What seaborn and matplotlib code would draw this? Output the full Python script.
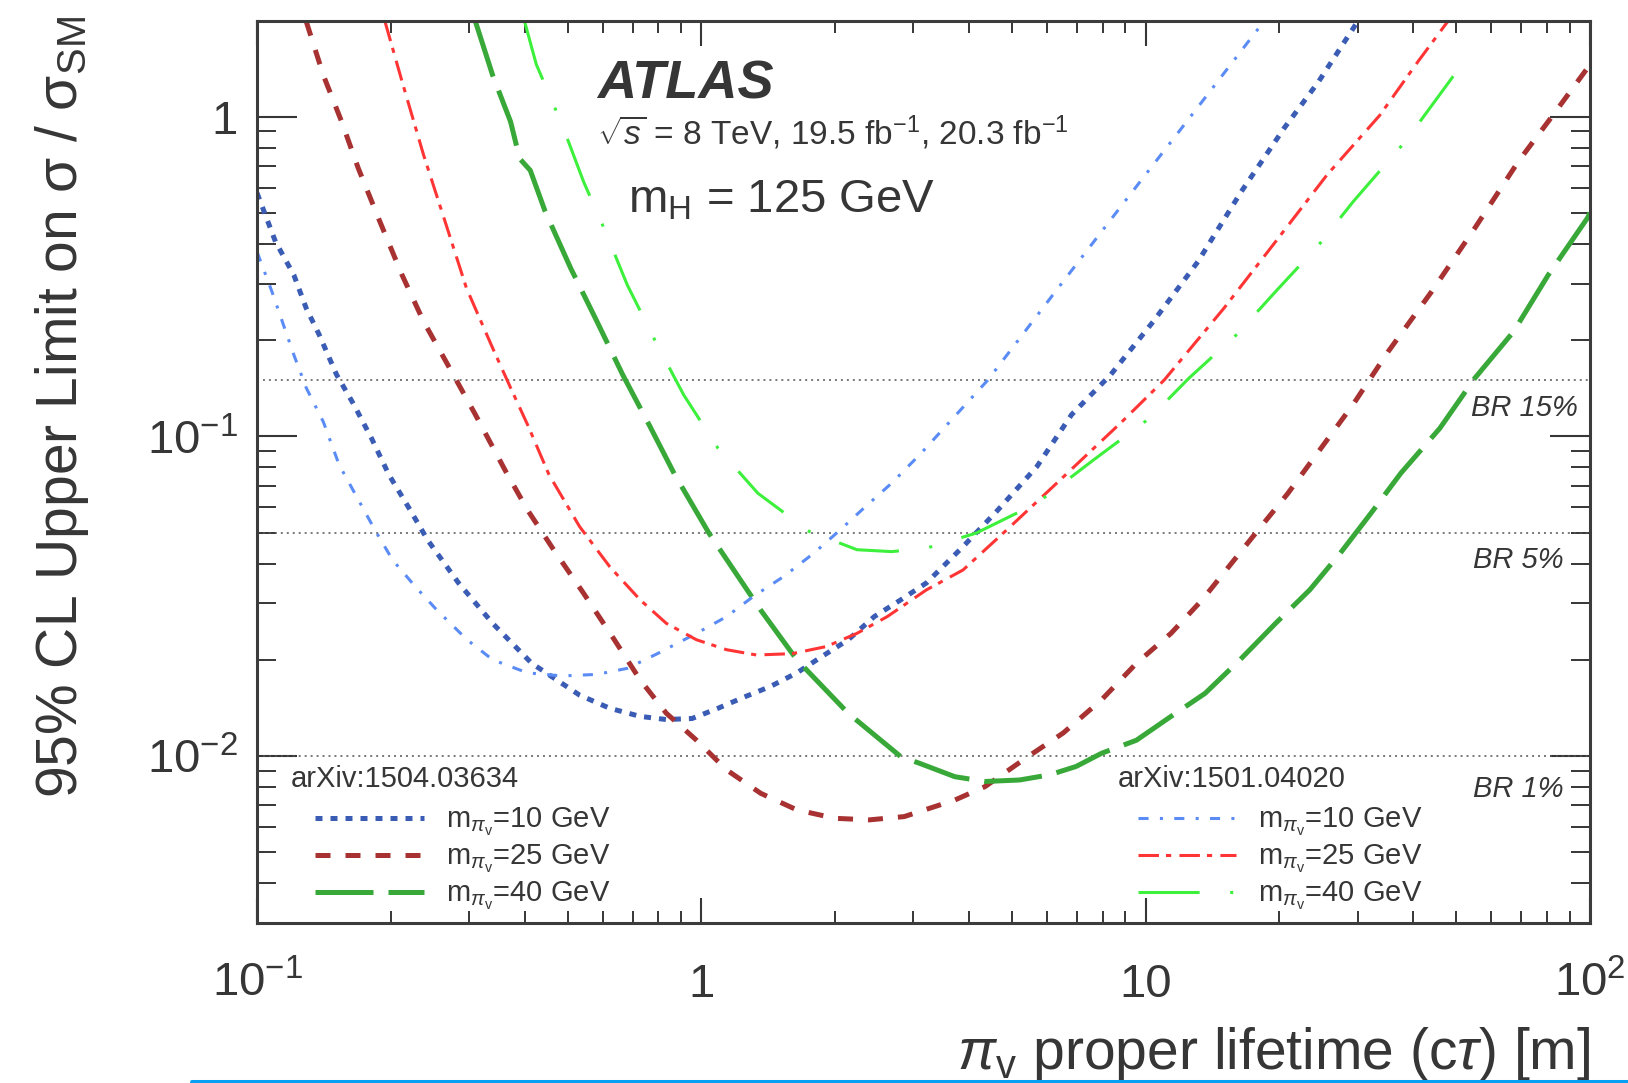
import matplotlib
matplotlib.use("Agg")
import matplotlib.pyplot as plt
import matplotlib.transforms as mtransforms
from matplotlib.lines import Line2D
from matplotlib.ticker import FixedLocator, FixedFormatter, LogLocator, NullFormatter
import seaborn as sns

# expected limits
# arXiv:1504.03634 (muon spectrometer vertices)
ms10_x = [0.1, 0.110, 0.121, 0.129, 0.138, 0.151, 0.165, 0.181, 0.198, 0.221, 0.242, 0.284, 0.339, 0.415,
          0.532, 0.622, 0.728, 0.834, 0.953, 1.09, 1.25, 1.43, 1.64, 1.87, 2.14, 2.45, 2.81, 3.21, 3.88,
          4.65, 5.69, 6.81, 8.34, 10.4, 13.1, 16.4, 20.5, 24.5, 30.0]
ms10_y = [0.578, 0.407, 0.320, 0.252, 0.208, 0.156, 0.126, 0.0986, 0.0759, 0.0589, 0.0474, 0.0348, 0.0260,
          0.0195, 0.0155, 0.0141, 0.0133, 0.0130, 0.0131, 0.0141, 0.0153, 0.0165, 0.0182, 0.0205, 0.0231,
          0.0273, 0.0308, 0.0348, 0.0452, 0.0589, 0.0805, 0.117, 0.156, 0.229, 0.352, 0.583, 0.923, 1.29, 1.99]

ms25_x = [0.129, 0.141, 0.155, 0.169, 0.189, 0.212, 0.237, 0.271, 0.310, 0.363, 0.406, 0.465, 0.543, 0.637,
          0.728, 0.834, 0.975, 1.14, 1.36, 1.64, 2.00, 2.39, 2.86, 3.72, 4.35, 5.43, 6.52, 7.96, 9.53, 11.4,
          13.4, 15.6, 17.9, 20.9, 29.3, 35.1, 44.0, 55.0, 68.9, 82.4, 98.6, 100]
ms25_y = [1.99, 1.35, 0.966, 0.690, 0.470, 0.320, 0.229, 0.164, 0.117, 0.0776, 0.0589, 0.0442, 0.0323,
          0.0231, 0.0173, 0.0136, 0.0112, 0.00904, 0.00764, 0.00678, 0.00638, 0.00631, 0.00646, 0.00728,
          0.00802, 0.00995, 0.0118, 0.0150, 0.0195, 0.0242, 0.0308, 0.0401, 0.0509, 0.0664, 0.126, 0.184,
          0.284, 0.448, 0.724, 1.01, 1.42, 1.45]

ms40_x = [0.310, 0.339, 0.372, 0.390, 0.412, 0.445, 0.508, 0.582, 0.665, 0.762, 0.871, 1.04, 1.36, 1.64,
          2.14, 2.81, 3.10, 3.72, 4.35, 5.20, 6.08, 6.97, 7.96, 9.53, 11.4, 13.6, 16.3, 19.6, 23.4, 27.4,
          32.1, 37.5, 45.9, 55.0, 67.3, 80.5, 98.6, 100]
ms40_y = [1.99, 1.35, 0.966, 0.740, 0.680, 0.506, 0.336, 0.229, 0.156, 0.109, 0.0759, 0.0498, 0.0286,
          0.0200, 0.0136, 0.00995, 0.00948, 0.00861, 0.00832, 0.00841, 0.00873, 0.00927, 0.0102, 0.0112,
          0.0133, 0.0157, 0.0200, 0.0260, 0.0331, 0.0431, 0.0574, 0.0767, 0.106, 0.152, 0.213, 0.320,
          0.482, 0.501]

# arXiv:1501.04020 (calorimeter)
cr10_x = [0.1, 0.108, 0.121, 0.129, 0.141, 0.153, 0.185, 0.202, 0.227, 0.254, 0.297, 0.339, 0.406, 0.486,
          0.582, 0.681, 0.796, 0.975, 1.14, 1.31, 1.53, 1.79, 2.05, 2.34, 2.68, 3.11, 4.41, 6.31, 8.91,
          12.6, 18.5]
cr10_y = [0.378, 0.284, 0.180, 0.142, 0.111, 0.0815, 0.0504, 0.0410, 0.0339, 0.0286, 0.0231, 0.0200,
          0.0182, 0.0178, 0.0180, 0.0188, 0.0209, 0.0242, 0.0273, 0.0316, 0.0364, 0.0431, 0.0509, 0.0603,
          0.0714, 0.0881, 0.150, 0.288, 0.537, 1.0, 2.0]

cr25_x = [0.194, 0.212, 0.237, 0.265, 0.296, 0.339, 0.372, 0.406, 0.454, 0.532, 0.622, 0.728, 0.834, 0.975,
          1.14, 1.33, 1.60, 1.91, 2.24, 2.62, 3.21, 3.88, 4.86, 6.08, 8.83, 11.0, 15.0, 19.6, 25.6, 33.6,
          41.0, 48.1]
cr25_y = [1.99, 1.29, 0.760, 0.470, 0.291, 0.189, 0.142, 0.109, 0.0759, 0.0522, 0.0391, 0.0308, 0.0260,
          0.0231, 0.0215, 0.0207, 0.0209, 0.0220, 0.0242, 0.0273, 0.0331, 0.0382, 0.0509, 0.0681, 0.111,
          0.150, 0.252, 0.407, 0.659, 1.01, 1.49, 2.01]

cr40_x = [0.400, 0.425, 0.486, 0.543, 0.608, 0.681, 0.796, 0.912, 1.09, 1.34, 1.75, 2.24, 2.68, 3.21, 4.15,
          5.69, 7.62, 10.2, 12.5, 16.0, 19.6, 24.5, 29.3, 38.4, 49.2]
cr40_y = [1.99, 1.46, 0.944, 0.627, 0.438, 0.298, 0.193, 0.135, 0.0918, 0.0664, 0.0504, 0.0442, 0.0436,
          0.0447, 0.0498, 0.0618, 0.0843, 0.114, 0.152, 0.208, 0.284, 0.397, 0.543, 0.838, 1.34]

mass_labels = [r"m$_{\pi_{\mathrm{v}}}$=10 GeV", r"m$_{\pi_{\mathrm{v}}}$=25 GeV", r"m$_{\pi_{\mathrm{v}}}$=40 GeV"]
br_levels = [0.15, 0.05, 0.01]
br_labels = ["BR 15%", "BR 5%", "BR 1%"]
xtick_vals = [0.1, 1, 10, 100]
xtick_labels = [r"$10^{-1}$", "1", "10", r"$10^{2}$"]
ytick_vals = [0.01, 0.1, 1]
ytick_labels = [r"$10^{-2}$", r"$10^{-1}$", "1"]

sns.set_theme(style="ticks")
plt.rcParams["font.family"] = ["Liberation Sans", "DejaVu Sans"]
plt.rcParams["mathtext.fontset"] = "custom"
plt.rcParams["mathtext.rm"] = "Liberation Sans"
plt.rcParams["mathtext.it"] = "Liberation Sans:italic"
plt.rcParams["mathtext.bf"] = "Liberation Sans:bold"
plt.rcParams["mathtext.sf"] = "Liberation Sans"

ink = "#363636"

fig = plt.figure(figsize=(16.28, 10.83), dpi=100)
ax = fig.add_axes([0.1579, 0.1477, 0.8188, 0.8332])

# (x, y, colour, width, dash pattern in linewidths)
curves = [
    (ms10_x, ms10_y, "#3a5cb4", 3.6, (1.4, 1.6)),
    (ms25_x, ms25_y, "#a83232", 3.6, (3.0, 3.0)),
    (ms40_x, ms40_y, "#38a838", 3.6, (11.6, 3.0)),
    (cr10_x, cr10_y, "#5b8cf6", 2.2, (3.3, 3.7, 1.0, 3.7)),
    (cr25_x, cr25_y, "#ff3535", 2.2, (6.7, 2.3, 1.7, 2.7)),
    (cr40_x, cr40_y, "#3cf03c", 2.2, (20, 10, 1.0, 10)),
]
handles = []
for xs, ys, col, lw, dash in curves:
    sns.lineplot(x=xs, y=ys, ax=ax, color=col, linewidth=lw, linestyle=(0, dash),
                 estimator=None, sort=False)
    handles.append(ax.lines[-1])

# BR reference lines
for lvl in br_levels:
    ax.axhline(lvl, color="#555555", lw=1.1, linestyle=(0, (1.3, 2.6)), zorder=1)

ax.set_xscale("log")
ax.set_yscale("log")
ax.set_xlim(0.1, 100)
ax.set_ylim(0.003, 2)

ax.xaxis.set_major_locator(FixedLocator(xtick_vals))
ax.xaxis.set_major_formatter(FixedFormatter(xtick_labels))
ax.yaxis.set_major_locator(FixedLocator(ytick_vals))
ax.yaxis.set_major_formatter(FixedFormatter(ytick_labels))
ax.xaxis.set_minor_locator(LogLocator(base=10, subs=range(2, 10)))
ax.yaxis.set_minor_locator(LogLocator(base=10, subs=range(2, 10)))
ax.xaxis.set_minor_formatter(NullFormatter())
ax.yaxis.set_minor_formatter(NullFormatter())

ax.tick_params(which="both", direction="in", top=True, right=True, color=ink,
               labelcolor=ink, labelsize=34)
ax.tick_params(axis="x", which="major", length=18, width=1.5, pad=53)
ax.tick_params(axis="x", which="minor", length=8.6, width=1.4)
ax.tick_params(axis="y", which="major", length=29, width=1.5, pad=14)
ax.tick_params(axis="y", which="minor", length=13.7, width=1.4)
for lab in ax.get_xticklabels():
    lab.set_va("baseline")
for sp in ax.spines.values():
    sp.set_linewidth(2.2)
    sp.set_color("#3c3c3c")

ax.set_xlabel(r"$\pi_{\mathrm{v}}$ proper lifetime (c$\tau$) [m]", fontsize=41, color=ink, loc="right")
ax.xaxis.label.set_va("baseline")
ax.xaxis.set_label_coords(1.0, -0.162)
ax.set_ylabel(r"95% CL Upper Limit on σ / σ$_{\mathrm{SM}}$", fontsize=41, color=ink, loc="top")
ax.yaxis.label.set_va("baseline")
ax.yaxis.set_label_coords(-0.135, 1.005)

# ATLAS labels
ax.text(0.255, 0.9137, "ATLAS", transform=ax.transAxes, fontsize=39, fontweight="bold",
        style="italic", color=ink, va="baseline")
ax.text(0.255, 0.862, r"$\sqrt{s}$ = 8 TeV, 19.5 fb$^{-1}$, 20.3 fb$^{-1}$", transform=ax.transAxes,
        fontsize=24, color=ink, va="baseline")
ax.text(0.278, 0.787, r"m$_{\mathrm{H}}$ = 125 GeV", transform=ax.transAxes, fontsize=34,
        color=ink, va="baseline")

# BR labels, right aligned under each line
trans = mtransforms.blended_transform_factory(ax.transAxes, ax.transData)
for lvl, txt, xr, off in zip(br_levels, br_labels, [0.991, 0.98, 0.98], [20, 20, 24]):
    ax.annotate(txt, xy=(xr, lvl), xycoords=trans, xytext=(0, -off), textcoords="offset points",
                ha="right", va="center", fontsize=21, style="italic", color=ink)

# two legends, one per paper
ax.text(0.0253, 0.151, "arXiv:1504.03634", transform=ax.transAxes, fontsize=21, color=ink, va="baseline")
ax.text(0.646, 0.151, "arXiv:1501.04020", transform=ax.transAxes, fontsize=21, color=ink, va="baseline")
leg1 = ax.legend(handles=handles[:3], labels=mass_labels, loc="center left", bbox_to_anchor=(0.0435, 0.071),
                 frameon=False, fontsize=21, handlelength=3.72, handletextpad=0.76, labelspacing=0.17,
                 borderpad=0, borderaxespad=0, labelcolor=ink)
ax.add_artist(leg1)
ax.legend(handles=handles[3:], labels=mass_labels, loc="center left", bbox_to_anchor=(0.661, 0.071),
          frameon=False, fontsize=21, handlelength=3.34, handletextpad=0.76, labelspacing=0.17,
          borderpad=0, borderaxespad=0, labelcolor=ink)

# blue selection stripe along the bottom of the screenshot
fig.add_artist(Line2D([192 / 1628, 1.0], [1.5 / 1083, 1.5 / 1083], transform=fig.transFigure,
                      color="#08a0f4", lw=2.9, zorder=10))

fig.savefig("out.png", dpi=100)
